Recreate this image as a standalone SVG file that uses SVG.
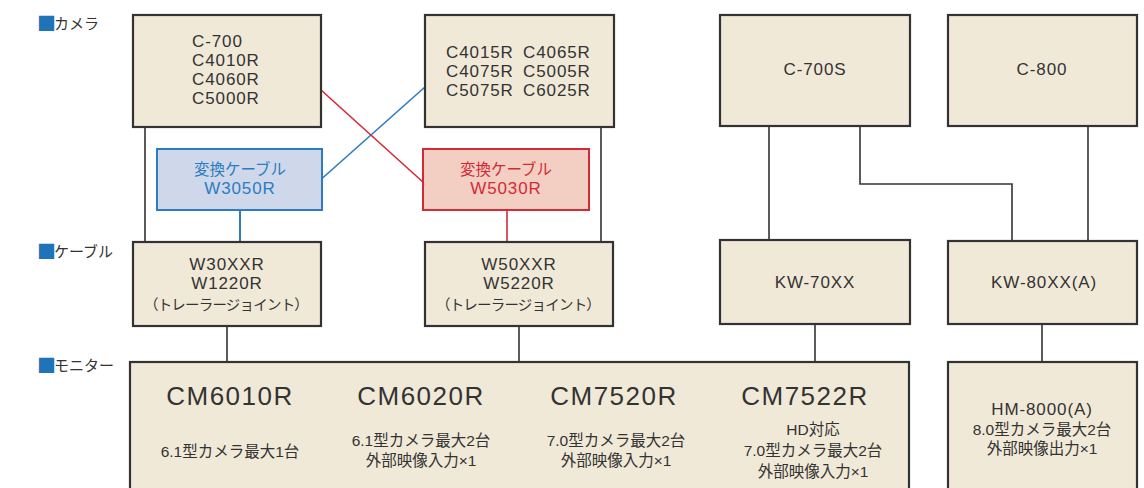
<svg xmlns="http://www.w3.org/2000/svg" width="1144" height="488" viewBox="0 0 1144 488">
<style>
text{font-family:"Liberation Sans","Noto Sans CJK JP",sans-serif;fill:#333}
.box{fill:#f1e9d8;stroke:#333;stroke-width:2.2}
.bbox{fill:#cfd8ea;stroke:#2b7cc0;stroke-width:2}
.rbox{fill:#f3cfc3;stroke:#d42a36;stroke-width:2}
.ln{stroke:#333;stroke-width:1.6;fill:none}
.bl{stroke:#2b7cc0;fill:none}
.rl{stroke:#d42a36;fill:none}
.m{font-size:17px;letter-spacing:0.9px}
.c{text-anchor:middle}
.j{font-size:15.5px}
.jk{font-size:15.5px;font-family:"Noto Sans CJK JP",sans-serif}
.tj{font-size:14.5px;letter-spacing:-0.8px;font-family:"Noto Sans CJK JP",sans-serif}
.lab{font-size:15px;font-family:"Noto Sans CJK JP",sans-serif}
.sq{fill:#1f74b9;font-size:19px}
.big{font-size:26px;letter-spacing:1.5px}
.blt{fill:#2b7cc0}
.rdt{fill:#d42a36}
</style>
<g id="labels">
<text class="lab" x="37" y="29"><tspan class="sq" dy="1.5">■</tspan><tspan dx="-2" dy="-1.5">カメラ</tspan></text>
<text class="lab" x="37" y="257"><tspan class="sq" dy="1.5">■</tspan><tspan dx="-2" dy="-1.5">ケーブル</tspan></text>
<text class="lab" x="37" y="371"><tspan class="sq" dy="1.5">■</tspan><tspan dx="-2" dy="-1.5">モニター</tspan></text>
</g>
<g id="connectors">
<line class="ln" x1="145" y1="127" x2="145" y2="242"/>
<line class="ln" x1="601" y1="127" x2="601" y2="242"/>
<line class="bl" x1="322" y1="178.5" x2="425" y2="87" stroke-width="1.6"/>
<line class="rl" x1="321" y1="90" x2="424" y2="183" stroke-width="1.6"/>
<line class="bl" x1="240" y1="210" x2="240" y2="242" stroke-width="2"/>
<line class="rl" x1="507" y1="210" x2="507" y2="242" stroke-width="1.6"/>
<line class="ln" x1="227" y1="326" x2="227" y2="362"/>
<line class="ln" x1="519" y1="326" x2="519" y2="362"/>
<line class="ln" x1="769" y1="126" x2="769" y2="240"/>
<polyline class="ln" points="860,126 860,184 1012,184 1012,241"/>
<line class="ln" x1="1088" y1="126" x2="1088" y2="241"/>
<line class="ln" x1="815" y1="324" x2="815" y2="362"/>
<line class="ln" x1="1042" y1="324" x2="1042" y2="362"/>
</g>
<g id="cam1">
<rect class="box" x="133" y="15" width="188" height="112"/>
<text class="m" x="192" y="47">C-700</text>
<text class="m" x="192" y="66">C4010R</text>
<text class="m" x="192" y="85">C4060R</text>
<text class="m" x="192" y="104">C5000R</text>
</g>
<g id="cam2">
<rect class="box" x="425" y="15" width="189" height="112"/>
<text class="m" y="58"><tspan x="446">C4015R</tspan><tspan x="523">C4065R</tspan></text>
<text class="m" y="77"><tspan x="446">C4075R</tspan><tspan x="523">C5005R</tspan></text>
<text class="m" y="96"><tspan x="446">C5075R</tspan><tspan x="523">C6025R</tspan></text>
</g>
<g id="cam3">
<rect class="box" x="720" y="15" width="190" height="111"/>
<text class="m c" x="815" y="75">C-700S</text>
</g>
<g id="cam4">
<rect class="box" x="948" y="15" width="189" height="111"/>
<text class="m c" x="1042" y="75">C-800</text>
</g>
<g id="conv-blue">
<rect class="bbox" x="157" y="149" width="165" height="61"/>
<text class="jk c blt" x="240" y="175">変換ケーブル</text>
<text class="m c blt" x="240" y="194">W3050R</text>
</g>
<g id="conv-red">
<rect class="rbox" x="423" y="149" width="166" height="61"/>
<text class="jk c rdt" x="506" y="175">変換ケーブル</text>
<text class="m c rdt" x="506" y="194">W5030R</text>
</g>
<g id="cable1">
<rect class="box" x="133" y="242" width="188" height="84"/>
<text class="m c" x="227" y="270">W30XXR</text>
<text class="m c" x="227" y="289">W1220R</text>
<text class="tj c" x="226" y="309.5">（トレーラージョイント）</text>
</g>
<g id="cable2">
<rect class="box" x="425" y="242" width="188" height="84"/>
<text class="m c" x="519" y="270">W50XXR</text>
<text class="m c" x="519" y="289">W5220R</text>
<text class="tj c" x="518" y="309.5">（トレーラージョイント）</text>
</g>
<g id="cable3">
<rect class="box" x="720" y="240" width="190" height="84"/>
<text class="m c" x="815" y="288">KW-70XX</text>
</g>
<g id="cable4">
<rect class="box" x="948" y="241" width="189" height="83"/>
<text class="m c" x="1044" y="288">KW-80XX(A)</text>
</g>
<g id="monitor-cm">
<rect class="box" x="130" y="362" width="779" height="140"/>
<text class="big c" x="230" y="405">CM6010R</text>
<text class="j c" x="230" y="457">6.1型カメラ最大1台</text>
<text class="big c" x="421" y="405">CM6020R</text>
<text class="j c" x="421" y="445.5">6.1型カメラ最大2台</text>
<text class="j c" x="421" y="466">外部映像入力×1</text>
<text class="big c" x="614" y="405">CM7520R</text>
<text class="j c" x="616" y="445.5">7.0型カメラ最大2台</text>
<text class="j c" x="616" y="466">外部映像入力×1</text>
<text class="big c" x="805" y="405">CM7522R</text>
<text class="j c" x="813" y="435">HD対応</text>
<text class="j c" x="813" y="456">7.0型カメラ最大2台</text>
<text class="j c" x="813" y="476.5">外部映像入力×1</text>
</g>
<g id="monitor-hm">
<rect class="box" x="948" y="362" width="189" height="140"/>
<text class="m c" x="1042" y="415">HM-8000(A)</text>
<text class="j c" x="1042" y="435">8.0型カメラ最大2台</text>
<text class="j c" x="1042" y="454">外部映像出力×1</text>
</g>
</svg>
